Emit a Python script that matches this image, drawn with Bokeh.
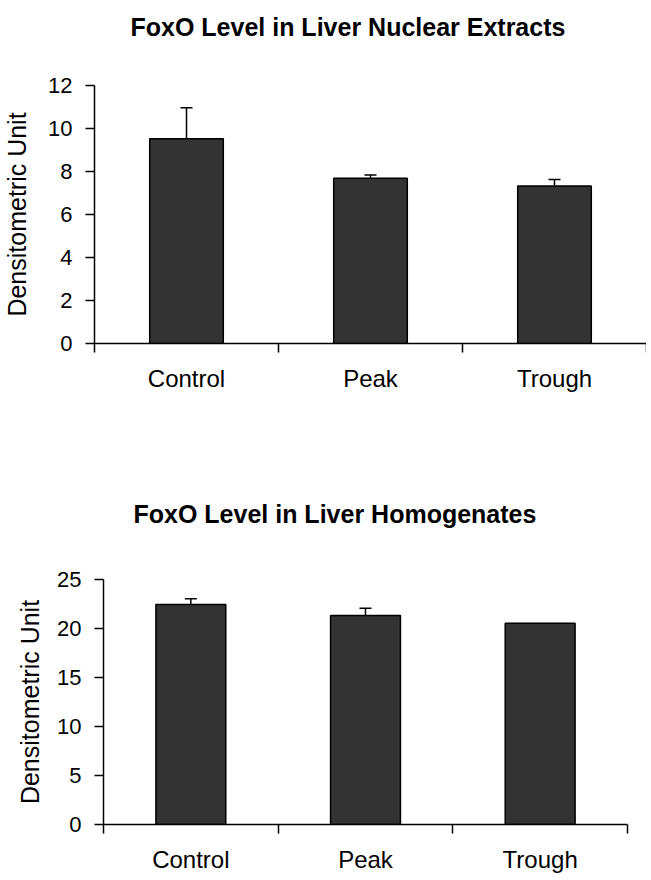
from bokeh.plotting import figure
from bokeh.models import Range1d, FixedTicker, ColumnDataSource, Whisker, TeeHead, Title
from bokeh.embed import file_html
from bokeh.resources import INLINE

categories = ["Control", "Peak", "Trough"]
nuclear_mean = [9.52, 7.69, 7.33]
nuclear_err = [1.44, 0.15, 0.30]
homog_mean = [22.45, 21.33, 20.54]
homog_err = [0.58, 0.74, 0.0]

nuclear_ticks = [0, 2, 4, 6, 8, 10, 12]
homog_ticks = [0, 5, 10, 15, 20, 25]

FONT = "Liberation Sans"


def make_chart(title, means, errs, yticks, height, bl, br, bt, bb, fw, fh,
               title_offset, title_gap, ylab_standoff, ytick_standoff):
    xs = [i + 0.5 for i in range(len(categories))]
    p = figure(width=bl + fw + br, height=height, output_backend="svg",
               toolbar_location=None, x_range=Range1d(0, len(categories)),
               y_range=Range1d(yticks[0], yticks[-1]), title=None,
               min_border_left=bl, min_border_right=br,
               min_border_top=bt, min_border_bottom=bb)
    p.frame_width = fw
    p.frame_height = fh
    p.outline_line_color = None
    p.xgrid.visible = False
    p.ygrid.visible = False
    p.background_fill_color = "white"
    p.border_fill_color = "white"

    src = ColumnDataSource(dict(x=xs, top=means, cat=categories))
    p.vbar(x="x", top="top", bottom=0, width=0.40, source=src,
           fill_color="#333333", line_color="black", line_width=1.5)

    ex = [x for x, e in zip(xs, errs) if e > 0]
    em = [m for m, e in zip(means, errs) if e > 0]
    eu = [m + e for m, e in zip(means, errs) if e > 0]
    esrc = ColumnDataSource(dict(x=ex, lower=em, upper=eu))
    w = Whisker(base="x", lower="lower", upper="upper", source=esrc,
                lower_head=None, upper_head=TeeHead(size=12, line_width=1.5, line_color="black"),
                line_width=1.5, line_color="black")
    p.add_layout(w)

    # x axis: category labels at centres, ticks at boundaries
    xa = p.xaxis[0]
    xa.ticker = FixedTicker(ticks=xs, minor_ticks=list(range(len(categories) + 1)))
    xa.major_label_overrides = {x: c for x, c in zip(xs, categories)}
    xa.major_tick_out = 0
    xa.major_tick_in = 0
    xa.minor_tick_out = 9
    xa.minor_tick_in = 0
    xa.minor_tick_line_color = "black"
    xa.minor_tick_line_width = 1.5
    xa.axis_line_color = "black"
    xa.axis_line_width = 1.5
    xa.major_label_text_font = FONT
    xa.major_label_text_font_size = "24px"
    xa.major_label_text_color = "black"
    xa.major_label_standoff = 12

    ya = p.yaxis[0]
    ya.ticker = FixedTicker(ticks=yticks, minor_ticks=[])
    ya.major_tick_out = 9
    ya.major_tick_in = 0
    ya.major_tick_line_color = "black"
    ya.major_tick_line_width = 1.5
    ya.axis_line_color = "black"
    ya.axis_line_width = 1.5
    ya.major_label_text_font = FONT
    ya.major_label_text_font_size = "22px"
    ya.major_label_text_color = "black"
    ya.major_label_standoff = ytick_standoff
    ya.axis_label = "Densitometric Unit"
    ya.axis_label_text_font = FONT
    ya.axis_label_text_font_size = "25px"
    ya.axis_label_text_font_style = "normal"
    ya.axis_label_text_color = "black"
    ya.axis_label_standoff = ylab_standoff

    # spacer between the frame and the title (first "above" item sits nearest the frame)
    p.add_layout(Title(text=" ", text_font_size="1px", standoff=title_gap), "above")
    p.add_layout(Title(text=title, text_font=FONT, text_font_size="25px",
                       text_font_style="bold", text_color="black", align="left",
                       offset=title_offset, standoff=0), "above")
    return p


p1 = make_chart("FoxO Level in  Liver Nuclear Extracts", nuclear_mean, nuclear_err,
                nuclear_ticks, 440, 92, 0, 85, 97, 552, 258, 36, 42, 14, 13)
p2 = make_chart("FoxO Level in  Liver Homogenates", homog_mean, homog_err,
                homog_ticks, 438, 103, 17, 139, 54, 524, 245, 30, 49, 10, 13)

open("out.html", "w").write(file_html([p1, p2], INLINE))
